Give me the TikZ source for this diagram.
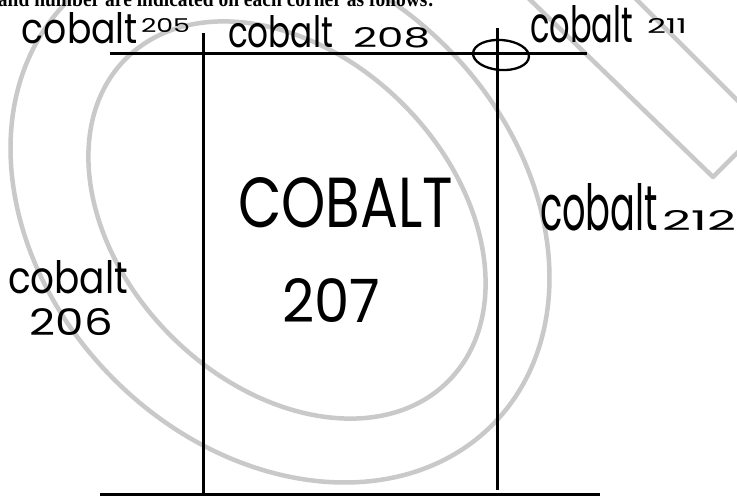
\documentclass[tikz,border=0pt]{standalone}
\usepackage{fontspec}
\usepackage{graphicx}
\newfontfamily\handfont{Poppins}
\newfontfamily\hdrfont{Liberation Serif}
\newcommand{\hw}[3]{\resizebox{#1pt}{#2pt}{\handfont #3}}
\begin{document}
\begin{tikzpicture}[x=1pt,y=-1pt,
  lbl/.style={inner sep=0pt, outer sep=0pt, anchor=base west},
  wm/.style={draw=black!21, line width=4.5pt},
  rule/.style={draw=black, line width=3pt},
  ring/.style={draw=black, line width=2.3pt}]
\useasboundingbox (0,0) rectangle (737,496);
\fill[white] (0,0) rectangle (737,496);
\begin{scope}
\clip (0,0) rectangle (737,496);
% watermark
\draw[wm, rotate around={-45:(287,220)}] (287,220) ellipse [x radius=228, y radius=164];
\draw[wm, rotate around={-45:(280,213)}] (280,213) ellipse [x radius=300, y radius=235];
\coordinate (wa1) at (520,-10);
\coordinate (wa2) at (713,177);
\coordinate (wa3) at (760,130);
\coordinate (wb1) at (627,-10);
\coordinate (wb2) at (760,123);
\draw[wm, line join=round] (wa1) -- (wa2) -- (wa3);
\draw[wm] (wb1) -- (wb2);
% header (cut at the top edge, as in the reference)
\node[lbl] (hdr) at (-2,6) {\resizebox{436pt}{15pt}{\hdrfont\bfseries and number are indicated on each corner as follows:}};
% grid lines
\coordinate (tl) at (110,53); \coordinate (tr) at (587,53);
\coordinate (lt) at (203,33); \coordinate (lb) at (203,496);
\coordinate (rt) at (497,28); \coordinate (rb) at (497,490);
\coordinate (bl) at (100,494.5); \coordinate (br) at (600,494.5);
\draw[rule] (tl) -- (tr);
\draw[rule] (lt) -- (lb);
\draw[rule] (rt) -- (rb);
\draw[rule] (bl) -- (br);
\draw[ring, rotate around={-4:(501,55)}] (501,55) ellipse [x radius=28, y radius=15];
% labels
\node[lbl] (c205) at (22,43) {\hw{116}{31}{cobalt}};
\node[lbl] (n205) at (141,32) {\hw{49}{14}{205}};
\node[lbl] (c208) at (228,47) {\hw{105}{32}{cobalt}};
\node[lbl] (n208) at (353,47) {\hw{77}{20}{208}};
\node[lbl] (c211) at (530,42) {\hw{103}{37}{cobalt}};
\node[lbl] (n211) at (647,33) {\hw{40}{15}{211}};
\node[lbl] (c207) at (238,227) {\hw{215}{50}{COBALT}};
\node[lbl] (n207) at (282,322) {\hw{98}{44}{207}};
\node[lbl] (c212) at (540,230) {\hw{118}{47}{cobalt}};
\node[lbl] (n212) at (662,230) {\hw{74}{20}{212}};
\node[lbl] (c206) at (8,293) {\hw{120}{33}{cobalt}};
\node[lbl] (n206) at (30,335) {\hw{83}{27}{206}};
\end{scope}
\end{tikzpicture}
\end{document}
